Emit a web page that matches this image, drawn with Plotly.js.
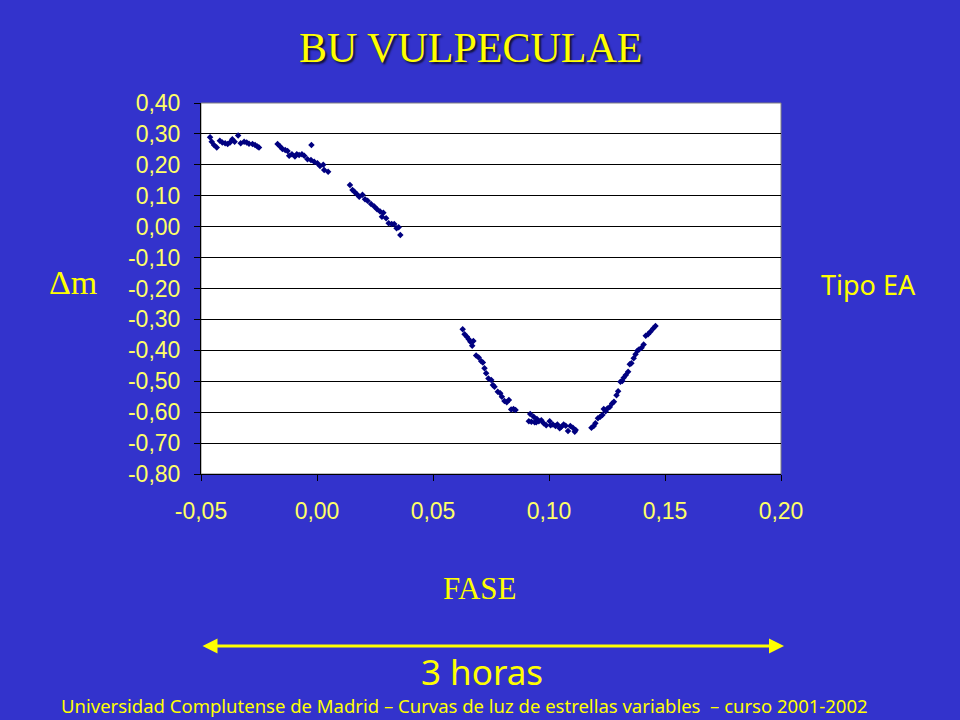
<!DOCTYPE html>
<html>
<head>
<meta charset="utf-8">
<script src="https://cdn.plot.ly/plotly-3.0.1.min.js"></script>
<style>
html,body{margin:0;padding:0;background:#3333cc;}
#chart{width:960px;height:720px;}
</style>
</head>
<body>
<div id="chart"></div>
<script>
// Phase (FASE) and magnitude difference (Δm)
const phase = [
 -0.0461,-0.0454,-0.0444,-0.0432,-0.0419,-0.0408,-0.0396,-0.0385,-0.0375,-0.0365,
 -0.0355,-0.0340,-0.0329,-0.0314,-0.0303,-0.0293,-0.0278,-0.0267,-0.0257,-0.0250,
 -0.0170,-0.0159,-0.0149,-0.0137,-0.0127,-0.0120,-0.0108,-0.0095,-0.0087,-0.0077,
 -0.0065,-0.0055,-0.0041,-0.0024,-0.0026,-0.0012,0.0002,0.0013,0.0027,0.0031,0.0048,
 0.0142,0.0153,0.0161,0.0171,0.0182,0.0196,0.0207,0.0218,0.0233,0.0247,
 0.0259,0.0272,0.0280,0.0286,0.0298,0.0309,0.0322,0.0333,0.0343,0.0352,0.0359,
 0.0628,0.0636,0.0646,0.0654,0.0661,0.0669,0.0674,0.0686,0.0697,0.0708,
 0.0715,0.0722,0.0729,0.0739,0.0751,0.0758,0.0765,0.0779,0.0790,0.0797,
 0.0808,0.0818,0.0827,0.0837,0.0847,0.0856,
 0.0919,0.0913,0.0924,0.0934,0.0938,0.0945,0.0948,0.0956,0.0967,0.0977,
 0.0988,0.1003,0.1007,0.1017,0.1028,0.1036,0.1046,0.1053,0.1063,0.1072,
 0.1082,0.1092,0.1103,0.1111,0.1115,
 0.1183,0.1193,0.1200,0.1211,0.1221,0.1230,0.1236,0.1244,0.1252,0.1262,
 0.1272,0.1280,0.1291,0.1298,0.1308,0.1316,0.1322,0.1331,0.1341,0.1348,
 0.1355,0.1365,0.1373,0.1381,0.1388,0.1399,0.1408,0.1417,0.1427,0.1437,
 0.1449,0.1459
];
const deltaM = [
 0.289,0.275,0.264,0.256,0.278,0.272,0.270,0.267,0.272,0.283,
 0.275,0.295,0.270,0.275,0.272,0.268,0.267,0.264,0.259,0.256,
 0.267,0.259,0.251,0.248,0.245,0.229,0.234,0.227,0.234,0.232,
 0.234,0.229,0.218,0.264,0.216,0.210,0.205,0.196,0.200,0.183,0.178,
 0.135,0.119,0.113,0.106,0.097,0.103,0.089,0.084,0.073,0.065,
 0.056,0.049,0.032,0.045,0.027,0.011,0.009,0.009,-0.005,-0.002,-0.027,
 -0.332,-0.348,-0.356,-0.364,-0.372,-0.385,-0.370,-0.417,-0.423,-0.435,
 -0.439,-0.458,-0.474,-0.491,-0.496,-0.512,-0.518,-0.534,-0.539,-0.550,
 -0.564,-0.568,-0.561,-0.591,-0.590,-0.593,
 -0.606,-0.629,-0.631,-0.615,-0.633,-0.633,-0.622,-0.629,-0.626,-0.636,
 -0.642,-0.629,-0.642,-0.640,-0.645,-0.640,-0.652,-0.647,-0.640,-0.644,
 -0.661,-0.645,-0.650,-0.663,-0.658,
 -0.650,-0.645,-0.636,-0.620,-0.615,-0.609,-0.590,-0.597,-0.588,-0.583,
 -0.572,-0.566,-0.545,-0.532,-0.502,-0.499,-0.489,-0.480,-0.469,-0.445,
 -0.442,-0.426,-0.413,-0.401,-0.397,-0.392,-0.381,-0.353,-0.348,-0.340,
 -0.329,-0.321
];

const xTickVals = [-0.05, 0, 0.05, 0.10, 0.15, 0.20];
const xTickText = ["-0,05", "0,00", "0,05", "0,10", "0,15", "0,20"];
const yTickVals = [0.4, 0.3, 0.2, 0.1, 0, -0.1, -0.2, -0.3, -0.4, -0.5, -0.6, -0.7, -0.8];
const yTickText = ["0,40","0,30","0,20","0,10","0,00","-0,10","-0,20","-0,30","-0,40","-0,50","-0,60","-0,70","-0,80"];

const titleText = "BU VULPECULAE";
const yLabel = "\u0394m";
const xLabel = "FASE";
const typeLabel = "Tipo EA";
const spanLabel = "3 horas";
const footerText = "Universidad Complutense de Madrid \u2013 Curvas de luz de estrellas variables  \u2013 curso 2001-2002";

const yellow = "#ffff00";
const tickYellow = "#ffff66";
const comic = "'Comic Sans MS', 'Noto Sans', sans-serif";
const serif = "'Liberation Serif', 'Times New Roman', serif";
const sans = "'Liberation Sans', Arial, sans-serif";

const trace = {
  x: phase, y: deltaM, type: "scatter", mode: "markers",
  marker: {symbol: "diamond", size: 5, color: "#000080", line: {width: 0}},
  hoverinfo: "skip"
};

const layout = {
  width: 960, height: 720,
  paper_bgcolor: "#3333cc", plot_bgcolor: "#ffffff",
  margin: {l: 201, r: 179, t: 103, b: 246, pad: 0},
  showlegend: false,
  xaxis: {
    range: [-0.05, 0.20], tickvals: xTickVals, ticktext: xTickText,
    showgrid: false, zeroline: false, showline: true, linecolor: "#000000", linewidth: 1,
    ticks: "outside", ticklen: 6, tickcolor: "#000000", ticklabelstandoff: 10,
    tickfont: {family: sans, size: 23, color: tickYellow}
  },
  yaxis: {
    range: [-0.8, 0.4], tickvals: yTickVals, ticktext: yTickText,
    showgrid: true, gridcolor: "#000000", gridwidth: 1, zeroline: false,
    showline: true, linecolor: "#000000", linewidth: 1,
    ticks: "outside", ticklen: 6, tickcolor: "#000000", ticklabelstandoff: 9,
    tickfont: {family: sans, size: 23, color: tickYellow}
  },
  shapes: [
    {type: "rect", xref: "paper", yref: "paper", x0: 0, x1: 1, y0: 0, y1: 1,
     line: {color: "#808080", width: 1}, layer: "below"}
  ],
  annotations: [
    {text: titleText, xref: "paper", yref: "paper", x: 0.4655, y: 1.148,
     xanchor: "center", yanchor: "middle", showarrow: false,
     font: {family: serif, size: 42, color: yellow, shadow: "2px 2px 2px #111133"}},
    {text: yLabel, xref: "paper", yref: "paper", x: -0.2207, y: 0.515,
     xanchor: "center", yanchor: "middle", showarrow: false,
     font: {family: serif, size: 34, color: yellow}},
    {text: typeLabel, xref: "paper", yref: "paper", x: 1.1517, y: 0.512,
     xanchor: "center", yanchor: "middle", showarrow: false,
     font: {family: comic, size: 27, color: yellow}},
    {text: xLabel, xref: "paper", yref: "paper", x: 0.481, y: -0.3073,
     xanchor: "center", yanchor: "middle", showarrow: false,
     font: {family: serif, size: 31, color: yellow}},
    {text: "", xref: "paper", yref: "paper", x: 1.0052, y: -0.4636,
     axref: "paper", ayref: "paper", ax: 0.0, ay: -0.4636,
     showarrow: true, arrowhead: 2, startarrowhead: 2, arrowside: "end+start",
     arrowsize: 1, startarrowsize: 1, arrowwidth: 3, arrowcolor: yellow},
    {text: spanLabel, xref: "paper", yref: "paper", x: 0.4845, y: -0.531,
     xanchor: "center", yanchor: "middle", showarrow: false,
     font: {family: comic, size: 35, color: yellow}},
    {text: footerText, xref: "paper", yref: "paper", x: 0.455, y: -0.6253,
     xanchor: "center", yanchor: "middle", showarrow: false,
     font: {family: comic, size: 18.5, color: yellow}}
  ]
};

Plotly.newPlot("chart", [trace], layout, {staticPlot: true, displayModeBar: false});
</script>
</body>
</html>
